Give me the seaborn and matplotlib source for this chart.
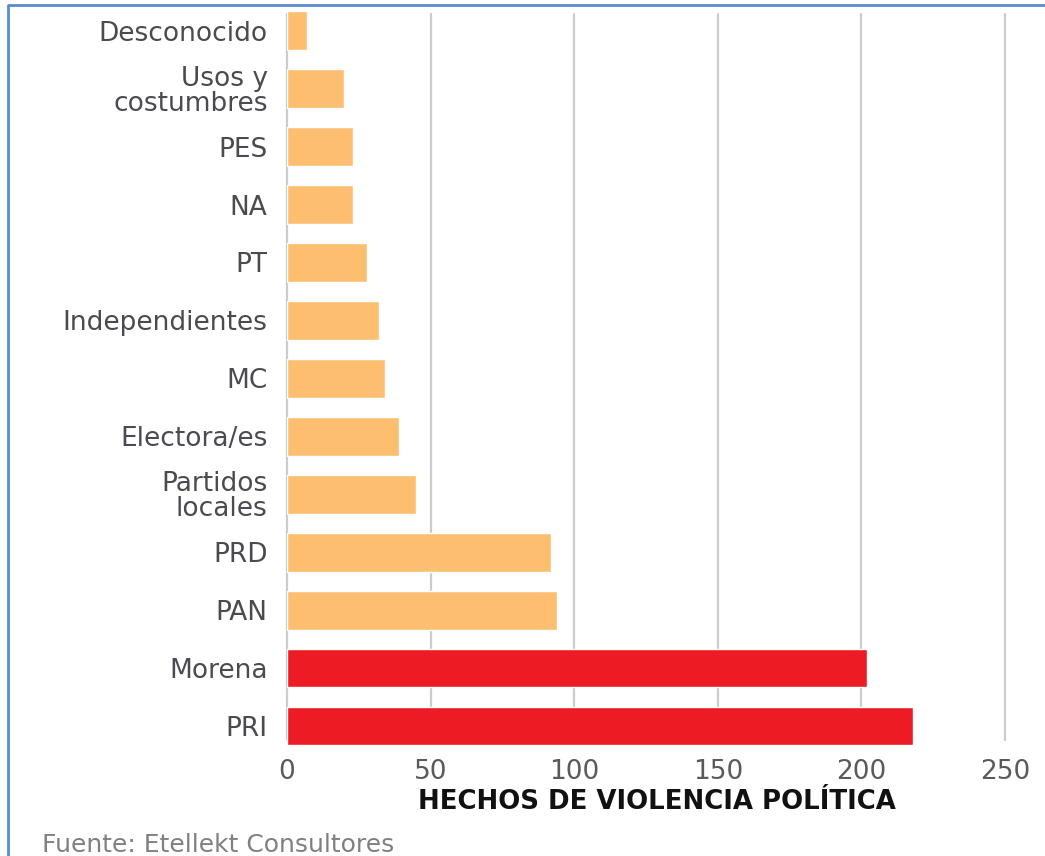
import matplotlib
matplotlib.use("Agg")
import matplotlib.pyplot as plt
import seaborn as sns
import pandas as pd
from matplotlib.lines import Line2D

categorias = ["Desconocido", "Usos y\ncostumbres", "PES", "NA", "PT", "Independientes",
              "MC", "Electora/es", "Partidos\nlocales", "PRD", "PAN", "Morena", "PRI"]
hechos = [7, 20, 23, 23, 28, 32, 34, 39, 45, 92, 94, 202, 218]
destacados = ["Morena", "PRI"]
ticks_x = [0, 50, 100, 150, 200, 250]

df = pd.DataFrame({"categoria": categorias, "hechos": hechos})
df["grupo"] = ["alto" if c in destacados else "resto" for c in categorias]

sns.set_style("white")
plt.rcParams["font.family"] = ["DejaVu Sans"]

fig = plt.figure(figsize=(10.45, 8.56), dpi=100)
ax = fig.add_axes([0.2746, 0.118, 0.6871, 0.880])

# lineas de referencia verticales
for x in ticks_x:
    ax.axvline(x, ymin=0.0199, ymax=0.9834, color="#cccccc", lw=1.6, zorder=0, clip_on=False)

sns.barplot(data=df, x="hechos", y="categoria", hue="grupo",
            palette={"resto": "#FDBF6F", "alto": "#ED1C24"},
            width=0.67, dodge=False, legend=False, saturation=1, ax=ax, zorder=2)

ax.set_xlim(0, 250)
ax.set_xticks(ticks_x)
ax.set_ylabel("")
sns.despine(ax=ax, left=True, bottom=True)
ax.tick_params(axis="both", length=0)
ax.tick_params(axis="y", pad=14, labelsize=19, labelcolor="#4a4a50")
ax.tick_params(axis="x", pad=3, labelsize=19, labelcolor="#5a5a5a")
for lab in ax.get_yticklabels():
    lab.set_linespacing(0.95)

ax.set_xlabel("HECHOS DE VIOLENCIA POLÍTICA", fontsize=18.7, fontweight="bold",
              color="#111111", labelpad=3)
ax.xaxis.label.set_x(0.515)

fig.text(42 / 1045, 1 - 845 / 856, "Fuente: Etellekt Consultores", va="center", ha="left",
         fontsize=18, color="#808080")

# marco azul
fig.add_artist(Line2D([8 / 1045, 8 / 1045, 1], [0, 1 - 5 / 856, 1 - 5 / 856],
                      transform=fig.transFigure, color="#5B8BD0", lw=2))

fig.savefig("out.png", dpi=100)
